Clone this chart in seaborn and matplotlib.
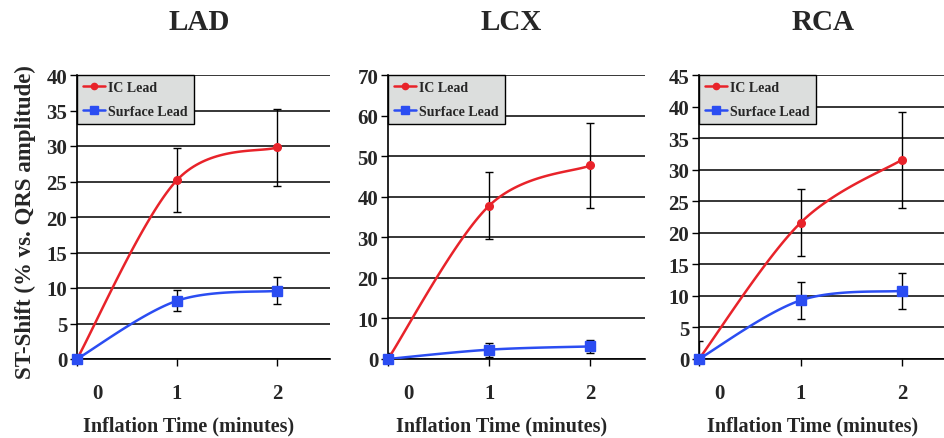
import numpy as np
import pandas as pd
import matplotlib
matplotlib.use("Agg")
import matplotlib.pyplot as plt
import matplotlib.transforms as mtransforms
from matplotlib.lines import Line2D
import seaborn as sns

# ========================
# Data
# ========================
times = [0, 1, 2]
panels = ["LAD", "LCX", "RCA"]

lad_ic = [0, 25.2, 29.8]
lad_ic_err = [0, 4.5, 5.4]
lad_surf = [0, 8.2, 9.6]
lad_surf_err = [0, 1.5, 1.9]

lcx_ic = [0, 37.8, 47.7]
lcx_ic_err = [1.5, 8.3, 10.4]
lcx_surf = [0, 2.3, 3.1]
lcx_surf_err = [0, 1.7, 1.7]

rca_ic = [0, 21.6, 31.6]
rca_ic_err = [2.8, 5.3, 7.6]
rca_surf = [0, 9.3, 10.8]
rca_surf_err = [0, 2.9, 2.9]

y_max = [40, 70, 45]
y_step = [5, 10, 5]

RED = "#e8232a"
BLUE = "#2b4df2"
SERIF = "Liberation Serif"


def smooth(xs, ys, n=40):
    # Excel-style smoothed line (bezier through the points)
    P = np.column_stack([xs, ys]).astype(float)
    ext = np.vstack([P[0], P, P[-1]])
    out = []
    for i in range(len(P) - 1):
        p0, p3 = P[i], P[i + 1]
        c1 = p0 + (ext[i + 2] - ext[i]) / 6
        c2 = p3 - (ext[i + 3] - ext[i + 1]) / 6
        t = np.linspace(0, 1, n)[:, None]
        seg = ((1 - t) ** 3) * p0 + 3 * ((1 - t) ** 2) * t * c1 + 3 * (1 - t) * t ** 2 * c2 + t ** 3 * p3
        out.append(seg)
    c = np.vstack(out)
    return pd.DataFrame({"x": c[:, 0], "y": c[:, 1]})


sns.set_style("white")
plt.rcParams["font.family"] = [SERIF, "DejaVu Serif"]
plt.rcParams["font.weight"] = "bold"

fig = plt.figure(figsize=(9.45, 4.39), dpi=100)
W, H = 945, 439
# left px, right px, xmax
boxes = [(77, 330, 2.53), (388, 645, 2.54), (699, 945, 2.42)]
series = [
    (lad_ic, lad_ic_err, lad_surf, lad_surf_err),
    (lcx_ic, lcx_ic_err, lcx_surf, lcx_surf_err),
    (rca_ic, rca_ic_err, rca_surf, rca_surf_err),
]

for k, name in enumerate(panels):
    l, r, xm = boxes[k]
    ax = fig.add_axes([l / W, (H - 360) / H, (r - l) / W, (360 - 76) / H])
    ic, ic_e, sf, sf_e = series[k]

    for vals, errs, col, mk, ms in [(ic, ic_e, RED, "o", 5.5), (sf, sf_e, BLUE, "s", 6.5)]:
        ax.errorbar(times, vals, yerr=errs, fmt="none", ecolor="black",
                    elinewidth=1, capsize=3, capthick=1, zorder=3)
        sns.lineplot(data=smooth(times, vals), x="x", y="y", sort=False,
                     estimator=None, color=col, lw=1.8, ax=ax, zorder=4)
        ax.plot(times, vals, linestyle="none", marker=mk, ms=ms, color=col, zorder=5,
                clip_on=False)

    ax.set_xlim(0, xm)
    ax.set_ylim(0, y_max[k])
    ax.set_yticks(np.arange(0, y_max[k] + 1, y_step[k]))
    ax.set_xticks(times)
    ax.set_xticklabels([str(t) for t in times])
    ax.yaxis.grid(True, color="black", lw=1.1)
    ax.xaxis.grid(False)
    for s in ["top", "right"]:
        ax.spines[s].set_visible(False)
    for s in ["left", "bottom"]:
        ax.spines[s].set_color("black")
        ax.spines[s].set_linewidth(1.2)
    ax.tick_params(axis="y", left=True, length=5, width=1, color="black",
                   labelsize=15, pad=2)
    ax.tick_params(axis="x", bottom=True, length=5, width=1, color="black",
                   labelsize=15, pad=12)
    for lab in ax.get_yticklabels() + ax.get_xticklabels():
        lab.set_fontweight("bold")
    # first x label sits a little to the right in the original
    off = mtransforms.ScaledTranslation(20 / 100, 0, fig.dpi_scale_trans)
    first = ax.get_xticklabels()[0]
    first.set_transform(first.get_transform() + off)

    ax.set_xlabel("Inflation Time (minutes)", fontsize=14.5, fontweight="bold")
    ax.xaxis.set_label_coords(1.12 / xm, -0.2)
    ax.set_ylabel("")

    handles = [
        Line2D([], [], color=RED, marker="o", ms=4.5, lw=1.8),
        Line2D([], [], color=BLUE, marker="s", ms=5.5, lw=1.8),
    ]
    leg = ax.legend(handles, ["IC Lead", "Surface Lead"], loc="upper left",
                    bbox_to_anchor=(0, 1), borderaxespad=0, fancybox=False,
                    framealpha=1, facecolor="#dcdedd", edgecolor="black",
                    handlelength=1.6, handletextpad=0.2, labelspacing=0.75,
                    borderpad=0.45, prop={"family": SERIF, "weight": "bold", "size": 10})
    leg.get_frame().set_linewidth(1)
    leg.set_zorder(6)

    cx = (l + 1.22 * (r - l) / xm) / W
    fig.text(cx, 1 - 22 / H, name, ha="center", va="center", fontsize=21,
             fontweight="bold")

fig.text(25 / W, 1 - 222 / H, "ST-Shift (% vs. QRS amplitude)", rotation=90,
         ha="center", va="center", fontsize=16.5, fontweight="bold")

fig.savefig("out.png", dpi=100)
